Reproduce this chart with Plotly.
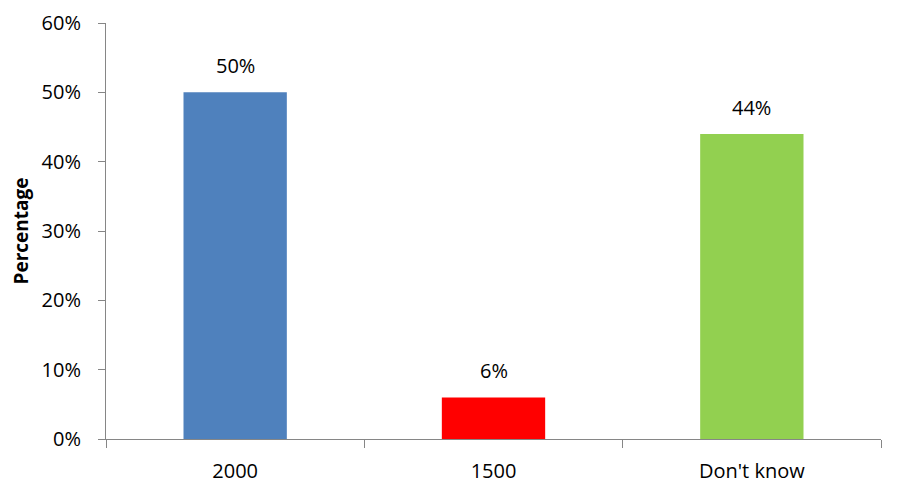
import plotly.graph_objects as go

categories = ["2000", "1500", "Don't know"]
percentages = [0.50, 0.06, 0.44]
bar_colors = ["#4F81BD", "#FF0000", "#92D050"]
y_ticks = [0, 0.1, 0.2, 0.3, 0.4, 0.5, 0.6]

FONT = "Open Sans"
AXIS_GREY = "#868686"

fig = go.Figure()
fig.add_trace(go.Bar(
    x=categories,
    y=percentages,
    marker=dict(color=bar_colors, line=dict(width=0)),
    showlegend=False,
    hoverinfo="skip",
))

# value labels above the bars (category index, since "2000" would be read as a number)
for i, val in enumerate(percentages):
    fig.add_annotation(
        x=i, y=val, xref="x", yref="y",
        text=f"{val:.0%}",
        showarrow=False,
        yanchor="bottom",
        yshift=11,
        font=dict(family=FONT, size=20, color="#000000"),
    )

# page body adds an 8px margin, so the figure is 8px smaller each way
fig.update_layout(
    width=891,
    height=488,
    margin=dict(l=98, r=18, t=15, b=57),
    paper_bgcolor="white",
    plot_bgcolor="white",
    bargap=0.6,
    font=dict(family=FONT, size=20, color="#000000"),
)

fig.update_xaxes(
    type="category",
    range=[-0.5, len(categories) - 0.5],
    automargin=False,
    showline=True,
    linecolor=AXIS_GREY,
    linewidth=1,
    ticks="outside",
    tickson="boundaries",
    ticklen=8,
    tickcolor=AXIS_GREY,
    showgrid=False,
    zeroline=False,
    tickangle=0,
    ticklabelstandoff=14,
    tickfont=dict(family=FONT, size=20),
)

fig.update_yaxes(
    range=[0, 0.6],
    automargin=False,
    tickvals=y_ticks,
    tickformat=".0%",
    showline=True,
    linecolor=AXIS_GREY,
    linewidth=1,
    ticks="outside",
    ticklen=7,
    tickcolor=AXIS_GREY,
    showgrid=False,
    zeroline=False,
    ticklabelstandoff=13,
    tickfont=dict(family=FONT, size=20),
    title=dict(text="<b>Percentage</b>", font=dict(family=FONT, size=19), standoff=8),
)

fig.write_html("out.html")
